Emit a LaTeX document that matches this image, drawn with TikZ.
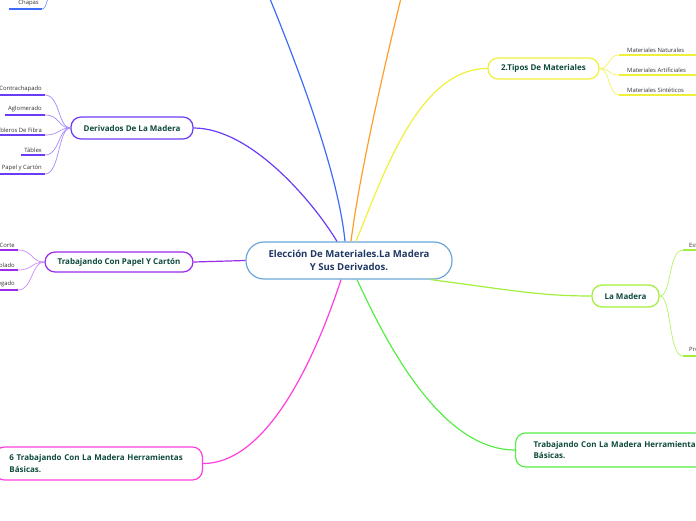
\documentclass[tikz,border=0pt]{standalone}
\usepackage{fontspec}
\setmainfont{Open Sans}
\usetikzlibrary{calc}
\definecolor{cborder}{HTML}{6CA6D8}
\definecolor{cnavy}{HTML}{1F3864}
\definecolor{tgreen}{HTML}{0E4A3C}
\definecolor{cpurple}{HTML}{6B3CF5}
\definecolor{cviolet}{HTML}{9B2BEA}
\definecolor{cyellow}{HTML}{F0F03A}
\definecolor{clime}{HTML}{A2F03C}
\definecolor{cgreen}{HTML}{55EE44}
\definecolor{cmagenta}{HTML}{FF3FDD}
\definecolor{cbluel}{HTML}{3C6CF8}
\definecolor{corange}{HTML}{FF9F29}
\definecolor{leafgray}{HTML}{333333}
\begin{document}
\begin{tikzpicture}[x=1pt,y=-1pt,
  central/.style={draw=cborder, line width=1.2pt, rounded corners=18pt, fill=white,
    text=cnavy, font=\fontsize{9.6}{13}\selectfont\bfseries, align=center,
    minimum width=206pt, minimum height=37pt, inner sep=0pt},
  branch/.style={draw, line width=1.2pt, rounded corners=10pt, fill=white, text=tgreen,
    font=\fontsize{8}{11.5}\selectfont\bfseries, inner sep=0pt},
  mainline/.style={line width=1.2pt},
  leafline/.style={line width=0.7pt},
  leafR/.style={inner xsep=3pt, inner ysep=2.6pt, text=leafgray,
    font=\fontsize{5.9}{6.5}\selectfont, anchor=south east},
  leafL/.style={inner xsep=8pt, inner ysep=2.6pt, text=leafgray,
    font=\fontsize{5.9}{6.5}\selectfont, anchor=south west},
  uline/.style={line width=2.2pt}
]
\useasboundingbox (0,0) rectangle (696,520);
\clip (0,0) rectangle (696,520);

% central
\node[central] (c) at (349,260.5) {Elección De Materiales.La Madera\\Y Sus Derivados.};

% branches
\node[branch, draw=cpurple, minimum width=122pt, minimum height=22pt] (der) at (132,128) {Derivados De La Madera};
\node[branch, draw=cviolet, minimum width=148pt, minimum height=20pt] (pap) at (119,262) {Trabajando Con Papel Y Cartón};
\node[branch, draw=cyellow, minimum width=111pt, minimum height=21pt] (tip) at (543.5,68.5) {2.Tipos De Materiales};
\node[branch, draw=clime, minimum width=67pt, minimum height=22pt] (lam) at (625.5,296) {La Madera};
\node[branch, draw=cgreen, anchor=west, minimum height=34pt, inner xsep=18pt, text width=200pt, align=left] (tm) at (515,450) {Trabajando Con La Madera Herramientas\\Básicas.};
\node[branch, draw=cmagenta, anchor=east, minimum height=33pt, inner xsep=15pt, text width=178pt, align=left] (six) at (203,463.5) {6 Trabajando Con La Madera Herramientas\\Básicas.};

% free ends off the frame
\coordinate (btop) at (268,-6);
\coordinate (otop) at (402,-6);
\coordinate (chp) at (52,-12);

% main connectors
\draw[mainline, cpurple] ([xshift=-12pt]c.north) .. controls (312,200) and (250,128) .. (der.east);
\draw[mainline, cbluel] ([xshift=-4pt]c.north) .. controls (338,170) and (295,60) .. (btop);
\draw[mainline, corange] ([xshift=2pt]c.north) .. controls (360,170) and (386,60) .. (otop);
\draw[mainline, cyellow] ([xshift=7pt]c.north) .. controls (385,170) and (420,68.5) .. (tip.west);
\draw[mainline, clime] ([xshift=-22pt]c.south east) .. controls (510,290) and (540,296) .. (lam.west);
\draw[mainline, cgreen] ([xshift=8pt]c.south) .. controls (385,340) and (440,450) .. (tm.west);
\draw[mainline, cmagenta] ([xshift=-8pt]c.south) .. controls (318,350) and (270,463.5) .. (six.east);
\draw[mainline, cviolet] (c.west) -- (pap.east);

% Chapas leaf
\node[leafR] (chapas) at (42,9) {Chapas};
\draw[uline, cbluel] ([xshift=-6pt]chapas.south west) -- (chapas.south east);
\draw[leafline, cbluel!70] (chapas.south east) .. controls (47,9) and (47,-4) .. (chp);

% Derivados leaves
\node[leafR] (d1) at (45,95) {Contrachapado};
\node[leafR] (d2) at (45,115) {Aglomerado};
\node[leafR] (d3) at (45,135) {Tableros De Fibra};
\node[leafR] (d4) at (45,155) {Táblex};
\node[leafR] (d5) at (45,174) {Papel y Cartón};
\foreach \n in {d1,d2,d3,d4,d5}{
  \draw[uline, cpurple] (\n.south west) -- (\n.south east);
  \draw[leafline, cpurple!60] (der.west) .. controls (58,128) and (60,0 |- \n.south east) .. (\n.south east);
}

% Papel leaves
\node[leafR] (p1) at (18,250) {Corte};
\node[leafR] (p2) at (18,270) {Doblado};
\node[leafR] (p3) at (18,290) {Pegado};
\foreach \n in {p1,p2,p3}{
  \draw[uline, cviolet] (\n.south west) -- (\n.south east);
  \draw[leafline, cviolet!55] (pap.west) .. controls (31,262) and (33,0 |- \n.south east) .. (\n.south east);
}

% Tipos leaves
\node[leafL] (t1) at (619,55) {Materiales Naturales};
\node[leafL] (t2) at (619,75) {Materiales Artificiales};
\node[leafL] (t3) at (619,95) {Materiales Sintéticos};
\foreach \n in {t1,t2,t3}{
  \draw[uline, cyellow] (\n.south west) -- ([xshift=20pt]\n.south east);
  \draw[leafline, cyellow!80] (tip.east) .. controls (610,68.5) and (608,0 |- \n.south west) .. (\n.south west);
}

% La Madera leaves
\node[leafL, inner xsep=6pt] (m1) at (683,250) {Estructura};
\node[leafL, inner xsep=6pt] (m2) at (683,356) {Propiedades};
\foreach \n in {m1,m2}{
  \draw[uline, clime] (\n.south west) -- (\n.south east);
  \draw[leafline, clime!80] (lam.east) .. controls (672,296) and (668,0 |- \n.south west) .. (\n.south west);
}
\end{tikzpicture}
\end{document}
